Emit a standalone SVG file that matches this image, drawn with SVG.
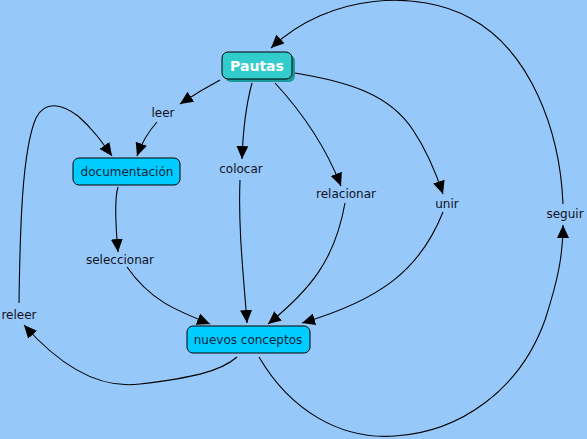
<svg xmlns="http://www.w3.org/2000/svg" width="587" height="439" viewBox="0 0 587 439">
<style>
.bg{fill:#96c8fa}
.c{fill:none;stroke:#000;stroke-width:1.1}
.lbl{font-family:"DejaVu Sans",Verdana,sans-serif;font-size:12px;fill:#111122;text-anchor:middle}
.box{fill:#00ccff;stroke:#000;stroke-width:1}
.t{font-family:"DejaVu Sans",Verdana,sans-serif;font-size:12px;fill:#10243a;text-anchor:middle}
</style>
<defs>
<marker id="ah" markerUnits="userSpaceOnUse" markerWidth="14" markerHeight="12" refX="13" refY="6" orient="auto">
<path d="M0,0 L13,6 L0,12 Z" fill="#000"/>
</marker>
</defs>
<rect class="bg" x="0" y="0" width="587" height="439"/>
<g id="connectors">
<path class="c" marker-end="url(#ah)" d="M220,80 C205,88 192,96 180,104"/>
<path class="c" marker-end="url(#ah)" d="M157,122 C148,132 142,142 137,156"/>
<path class="c" marker-end="url(#ah)" d="M19,303 C20,230 22,150 36,118 C45,100 62,104 78,116 C92,128 102,142 112,156"/>
<path class="c" marker-end="url(#ah)" d="M118,187 C114,200 116,230 118,252"/>
<path class="c" marker-end="url(#ah)" d="M127,267 C150,300 175,310 210,324"/>
<path class="c" marker-end="url(#ah)" d="M237,357 C220,372 190,378 140,384 C95,390 55,360 24,325"/>
<path class="c" marker-end="url(#ah)" d="M252,83 C246,105 243,130 242,159"/>
<path class="c" marker-end="url(#ah)" d="M240,180 C238,230 244,280 247,323"/>
<path class="c" marker-end="url(#ah)" d="M275,83 C300,110 325,145 341,186"/>
<path class="c" marker-end="url(#ah)" d="M345,203 C335,260 310,290 268,324"/>
<path class="c" marker-end="url(#ah)" d="M295,73 C350,82 390,95 413,130 C425,148 435,170 443,194"/>
<path class="c" marker-end="url(#ah)" d="M443,212 C420,270 380,300 302,323"/>
<path class="c" marker-end="url(#ah)" d="M259,357 C290,410 340,440 395,436 C460,432 520,390 545,320 C558,280 563,255 563,225"/>
<path class="c" marker-end="url(#ah)" d="M563,204 C560,130 530,50 470,18 C420,-10 330,-8 271,48"/>
</g>
<g id="pautas">
<rect x="225" y="55" width="70" height="27" rx="6" fill="#1a9a9a"/>
<rect x="222" y="52" width="70" height="27" rx="6" fill="#33cccc" stroke="#000" stroke-width="1"/>
<text x="257" y="71" font-family="DejaVu Sans,Verdana,sans-serif" font-size="14" font-weight="bold" fill="#fff" text-anchor="middle">Pautas</text>
</g>
<g id="documentacion">
<rect class="box" x="73" y="158" width="107" height="27" rx="6"/>
<text class="t" x="127" y="176">documentación</text>
</g>
<g id="nuevos">
<rect class="box" x="187" y="326" width="123" height="27" rx="6"/>
<text class="t" x="248" y="344">nuevos conceptos</text>
</g>
<g id="leer"><text class="lbl" x="163" y="117">leer</text></g>
<g id="colocar"><text class="lbl" x="241" y="173">colocar</text></g>
<g id="relacionar"><text class="lbl" x="346" y="198">relacionar</text></g>
<g id="unir"><text class="lbl" x="447" y="208">unir</text></g>
<g id="seguir"><text class="lbl" x="565" y="218">seguir</text></g>
<g id="seleccionar"><text class="lbl" x="120" y="264">seleccionar</text></g>
<g id="releer"><text class="lbl" x="19" y="319">releer</text></g>
</svg>
